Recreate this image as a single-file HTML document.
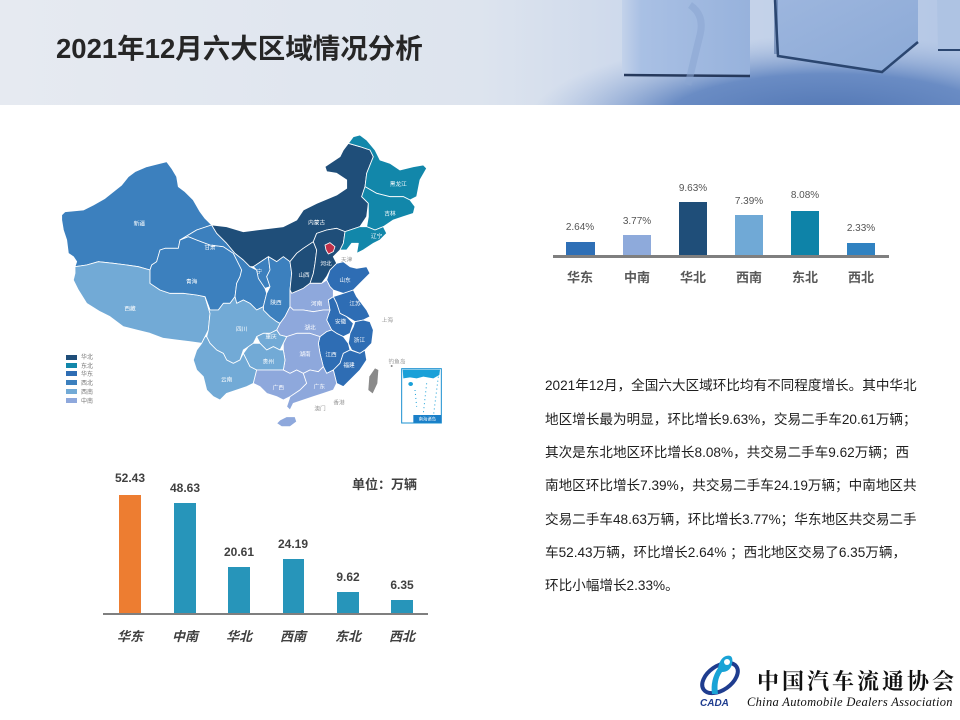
<!DOCTYPE html>
<html><head><meta charset="utf-8">
<style>
*{margin:0;padding:0;box-sizing:border-box}
body{width:960px;height:720px;background:#fff;position:relative;overflow:hidden;font-family:"Liberation Sans","Noto Sans CJK SC",sans-serif}
.abs{position:absolute}
.title{left:56px;top:35px;font-size:27.5px;font-weight:bold;color:#262626;line-height:28px;white-space:nowrap}
.para div{position:absolute;left:545px;font-size:13.6px;color:#1e1e1e;white-space:nowrap;line-height:20px}
.pct{position:absolute;width:60px;text-align:center;font-size:10px;color:#555;line-height:12px}
.cat{position:absolute;width:60px;text-align:center;font-size:13px;font-weight:bold;color:#595959;line-height:16px}
.val{position:absolute;width:60px;text-align:center;font-size:12px;font-weight:bold;color:#404040;line-height:14px}
.cat2{position:absolute;width:60px;text-align:center;font-size:13px;font-weight:bold;font-style:italic;color:#404040;line-height:16px}
</style></head><body>

<!-- header -->
<svg class="abs" style="left:0;top:0" width="960" height="105" viewBox="0 0 960 105">
<defs>
<linearGradient id="hg" x1="0" x2="1" y1="0" y2="0">
<stop offset="0" stop-color="#e6eaf1"/>
<stop offset="0.5" stop-color="#dde4ee"/>
<stop offset="0.64" stop-color="#cfdaec"/>
<stop offset="1" stop-color="#b4c7e5"/>
</linearGradient>
<radialGradient id="fl" cx="830" cy="120" r="300" gradientUnits="userSpaceOnUse" gradientTransform="translate(830 120) scale(1 0.28) translate(-830 -120)">
<stop offset="0" stop-color="#4f74b2"/>
<stop offset="0.55" stop-color="#6a8cc4"/>
<stop offset="1" stop-color="#9fb6dc" stop-opacity="0"/>
</radialGradient>
<linearGradient id="c1" x1="0" y1="0" x2="1" y2="0">
<stop offset="0" stop-color="#c3d2ea"/>
<stop offset="0.15" stop-color="#a9c0e4"/>
<stop offset="1" stop-color="#97b2dc"/>
</linearGradient>
<linearGradient id="c2" x1="0" y1="0" x2="1" y2="1">
<stop offset="0" stop-color="#9db6de"/>
<stop offset="1" stop-color="#8ba9d6"/>
</linearGradient>
</defs>
<rect width="960" height="105" fill="url(#hg)"/>
<rect x="500" y="30" width="460" height="75" fill="url(#fl)"/>
<!-- cube 1 -->
<rect x="622" y="-5" width="128" height="81" rx="3" fill="url(#c1)"/>
<path d="M624 75 L750 76" stroke="#26395c" stroke-width="2.5"/>
<path d="M690 5 Q705 15 700 35 Q695 55 688 85" stroke="#8aa6d2" stroke-width="7" fill="none" opacity="0.55"/>
<!-- cube 2 -->
<path d="M774 -2 L918 -2 L918 42 L882 72 L778 56 Z" fill="url(#c2)"/>
<path d="M776 -2 L776 54" stroke="#5a78a8" stroke-width="4" opacity="0.6"/>
<path d="M775 0 L778 56 L882 72 L918 42" stroke="#2b4670" stroke-width="2.5" fill="none"/>
<!-- cube 3 -->
<path d="M937 -2 L960 -2 L960 50 L938 50 Z" fill="#aec3e3"/>
<path d="M938 50 L960 50" stroke="#2b4670" stroke-width="2"/>
</svg>
<div class="abs title">2021年12月六大区域情况分析</div>

<!-- map -->
<svg class="abs" style="left:50px;top:130px" width="400" height="300" viewBox="0 0 1200 900">
<g stroke="#fff" stroke-width="2.5" stroke-linejoin="round">
<polygon fill="#3c80be" points="35,255 45,245 100,240 130,225 165,205 190,185 215,165 235,140 255,125 290,110 330,100 350,95 365,115 380,140 385,170 405,185 430,210 450,245 465,265 485,285 470,290 440,300 415,315 390,330 385,355 345,355 330,360 320,395 305,405 300,420 265,410 230,405 190,400 145,395 110,405 75,410 80,395 70,380 55,370 50,330 40,300 35,270"/>
<polygon fill="#72aad6" points="75,410 110,405 145,395 190,400 230,405 265,410 300,420 300,460 330,480 360,490 400,490 440,495 465,500 480,550 475,600 465,620 455,640 420,635 380,630 340,625 300,610 260,600 220,590 180,560 150,545 110,520 85,480 70,450 75,430"/>
<polygon fill="#3c80be" points="300,420 305,405 320,395 330,360 345,355 385,355 390,330 415,320 440,330 480,345 520,350 550,370 560,390 575,420 570,440 560,460 555,500 540,520 520,520 505,540 480,540 465,500 440,495 400,490 360,490 330,480 300,460"/>
<polygon fill="#3c80be" points="390,330 415,315 440,300 470,290 485,285 500,310 530,340 555,370 580,390 600,410 620,420 625,440 640,460 650,490 640,530 620,540 600,520 580,510 560,520 555,500 560,460 570,440 575,420 560,390 550,370 520,350 480,345 440,330 415,320"/>
<polygon fill="#1f4e79" points="485,285 530,290 580,305 620,300 660,295 700,290 740,270 760,240 800,220 860,195 890,175 890,150 860,130 830,125 825,110 870,80 880,60 895,40 930,50 960,60 970,80 950,130 945,170 935,200 955,220 950,260 930,290 900,300 885,305 860,295 830,300 800,310 790,335 760,355 740,370 720,395 700,380 680,395 655,380 640,390 610,410 600,410 580,390 555,370 530,340 500,310"/>
<polygon fill="#3c80be" points="610,410 640,390 655,380 660,420 650,440 660,470 645,475 625,445 620,420"/>
<polygon fill="#3c80be" points="650,440 660,420 655,380 680,395 700,380 720,395 725,430 720,480 720,530 705,560 690,580 680,575 660,560 640,540 640,530 650,490 660,470"/>
<polygon fill="#1f4e79" points="720,395 740,370 760,355 790,335 800,360 795,400 790,430 780,460 760,475 725,490 720,480 725,430"/>
<polygon fill="#1f4e79" points="790,335 800,310 830,300 860,295 885,305 880,340 870,360 850,380 860,400 840,420 830,440 815,460 780,460 790,430 795,400 800,360"/>
<polygon fill="#1287aa" points="895,40 910,20 930,15 950,30 975,60 990,90 1020,100 1050,120 1090,110 1120,105 1130,115 1110,150 1100,200 1080,210 1060,200 1020,200 980,190 945,170 950,130 970,80 960,60 930,50"/>
<polygon fill="#1287aa" points="945,170 980,190 1020,200 1060,200 1080,210 1095,230 1090,250 1060,260 1030,270 1000,290 975,300 950,290 955,260 955,220 935,200"/>
<polygon fill="#1287aa" points="885,305 900,300 930,290 950,290 975,300 1000,290 1010,310 990,330 970,340 940,360 920,370 925,340 905,340 890,360 870,360 880,340"/>
<polygon fill="#2e6db4" points="840,420 860,400 880,395 900,410 920,415 950,410 960,430 930,460 910,480 880,490 850,480 840,470 830,450"/>
<polygon fill="#8ea8dc" points="725,490 760,475 780,460 815,460 830,450 840,470 850,480 850,500 835,510 840,540 820,540 790,545 760,540 730,540 720,530 720,480"/>
<polygon fill="#2e6db4" points="880,490 910,480 920,500 935,520 950,540 960,560 940,570 915,575 890,560 870,550 860,520 850,500"/>
<polygon fill="#2e6db4" points="850,500 860,520 870,550 890,560 910,580 900,610 880,620 860,610 845,600 830,570 840,540 835,510"/>
<polygon fill="#2e6db4" points="915,575 940,570 960,575 970,600 965,640 945,660 930,670 905,660 895,640 900,610 910,590"/>
<polygon fill="#8ea8dc" points="705,560 720,530 730,540 760,540 790,545 820,540 840,540 830,570 845,600 830,605 810,620 780,610 740,610 710,620 690,615 680,600 690,580"/>
<polygon fill="#2e6db4" points="810,620 830,605 845,600 860,610 880,620 895,640 900,660 880,670 870,700 850,720 830,730 820,710 810,670 805,640"/>
<polygon fill="#2e6db4" points="900,660 930,670 945,660 950,690 930,720 900,750 880,770 860,760 850,720 870,700 880,670"/>
<polygon fill="#8ea8dc" points="710,620 740,610 780,610 810,620 805,640 810,670 820,710 805,725 780,720 760,730 740,720 720,730 700,720 705,690 700,660 700,640"/>
<polygon fill="#72aad6" points="465,500 480,540 505,540 520,520 540,520 555,500 560,520 580,510 600,520 620,540 640,530 640,540 660,560 680,575 690,580 680,600 660,610 640,610 620,620 610,640 595,650 580,660 570,690 550,700 530,690 520,670 500,660 480,640 470,620 475,600 480,550"/>
<polygon fill="#72aad6" points="640,610 660,610 680,600 690,615 710,620 700,640 690,660 670,650 650,660 630,640 620,620"/>
<polygon fill="#72aad6" points="595,650 610,640 630,640 650,660 670,650 690,660 700,660 705,690 700,720 660,720 620,720 600,710 590,690 580,670"/>
<polygon fill="#72aad6" points="455,640 465,620 470,620 480,640 500,660 520,670 530,690 550,700 570,690 580,670 590,690 600,710 620,720 610,760 590,770 560,780 530,790 510,810 490,800 470,780 460,740 440,720 430,690 440,660"/>
<polygon fill="#8ea8dc" points="620,720 660,720 700,720 720,730 740,720 760,730 770,760 750,780 720,800 700,810 680,800 650,790 630,770 610,760"/>
<polygon fill="#8ea8dc" points="760,730 780,720 805,725 820,710 830,730 850,720 860,760 850,780 820,790 790,800 760,810 730,820 720,840 710,830 720,800 750,780 770,760"/>
<polygon fill="#8ea8dc" points="690,870 710,860 735,860 740,875 720,890 695,890 680,880"/>
<polygon fill="#c0304a" points="825,345 840,338 855,350 850,365 835,372 828,360"/>
</g>
<polygon fill="#8a8a8a" points="975,715 985,720 982,760 968,790 955,780 958,740"/>
<circle cx="1025" cy="708" r="3" fill="#888"/>
<rect x="1055" y="716" width="119" height="163" fill="#fff" stroke="#1a90d0" stroke-width="3"/>
<path d="M1058 719 L1170 719 L1168 735 L1150 745 L1120 740 L1100 745 L1080 742 L1060 745 Z" fill="#1aa0d8"/>
<ellipse cx="1082" cy="762" rx="7" ry="6" fill="#1aa0d8"/>
<path d="M1165 740 L1150 860 M1130 760 L1120 850 M1095 780 L1100 830" stroke="#1aa0d8" stroke-width="3" stroke-dasharray="3,9" fill="none"/>
<rect x="1090" y="855" width="84" height="23" fill="#1a7fc8"/>
<text x="1132" y="872" font-size="13" fill="#fff" text-anchor="middle" font-family="Noto Sans CJK SC, sans-serif">南海诸岛</text>
<g font-family="Noto Sans CJK SC, sans-serif" font-size="17" fill="#fff" text-anchor="middle">
<text x="268" y="286">新疆</text>
<text x="240" y="541">西藏</text>
<text x="425" y="461">青海</text>
<text x="480" y="358">甘肃</text>
<text x="800" y="284">内蒙古</text>
<text x="1045" y="168">黑龙江</text>
<text x="1020" y="256">吉林</text>
<text x="980" y="324">辽宁</text>
<text x="828" y="406">河北</text>
<text x="762" y="441">山西</text>
<text x="628" y="431">宁</text>
<text x="678" y="524">陕西</text>
<text x="885" y="456">山东</text>
<text x="915" y="526">江苏</text>
<text x="800" y="526">河南</text>
<text x="872" y="581">安徽</text>
<text x="780" y="598">湖北</text>
<text x="575" y="603">四川</text>
<text x="663" y="626">重庆</text>
<text x="928" y="636">浙江</text>
<text x="765" y="678">湖南</text>
<text x="843" y="679">江西</text>
<text x="655" y="701">贵州</text>
<text x="897" y="711">福建</text>
<text x="530" y="754">云南</text>
<text x="685" y="779">广西</text>
<text x="808" y="776">广东</text>
</g>
<g font-family="Noto Sans CJK SC, sans-serif" font-size="17" fill="#999" text-anchor="middle">
<text x="890" y="394">天津</text>
<text x="1012" y="576">上海</text>
<text x="1041" y="701">钓鱼岛</text>
<text x="867" y="824">香港</text>
<text x="810" y="841">澳门</text>
</g>
</svg>
<!-- legend -->
<div class="abs" style="left:66px;top:354.5px;width:11px;height:5px;background:#1f4e79"></div>
<div class="abs" style="left:66px;top:362.5px;width:11px;height:5px;background:#1287aa"></div>
<div class="abs" style="left:66px;top:371px;width:11px;height:5px;background:#2e6db4"></div>
<div class="abs" style="left:66px;top:380px;width:11px;height:5px;background:#3c80be"></div>
<div class="abs" style="left:66px;top:389px;width:11px;height:5px;background:#72aad6"></div>
<div class="abs" style="left:66px;top:398px;width:11px;height:5px;background:#8ea8dc"></div>
<div class="abs" style="left:81px;top:353px;font-size:6px;line-height:8.7px;color:#777;font-family:'Noto Sans CJK SC',sans-serif">华北<br>东北<br>华东<br>西北<br>西南<br>中南</div>

<!-- top-right chart -->
<div class="abs" style="left:566px;top:242px;width:29px;height:14px;background:#2e6fb6"></div>
<div class="abs" style="left:623px;top:235px;width:28px;height:21px;background:#8eaadb"></div>
<div class="abs" style="left:679px;top:202px;width:28px;height:54px;background:#1f4e79"></div>
<div class="abs" style="left:735px;top:215px;width:28px;height:41px;background:#70a9d6"></div>
<div class="abs" style="left:791px;top:211px;width:28px;height:45px;background:#0e83a8"></div>
<div class="abs" style="left:847px;top:243px;width:28px;height:13px;background:#3082c1"></div>
<div class="abs" style="left:553px;top:255px;width:336px;height:3px;background:#7f7f7f"></div>
<div class="pct" style="left:550px;top:222px">2.64%</div>
<div class="pct" style="left:607px;top:216px">3.77%</div>
<div class="pct" style="left:663px;top:183px">9.63%</div>
<div class="pct" style="left:719px;top:196px">7.39%</div>
<div class="pct" style="left:775px;top:190px">8.08%</div>
<div class="pct" style="left:831px;top:223px">2.33%</div>
<div class="cat" style="left:550px;top:270px">华东</div>
<div class="cat" style="left:607px;top:270px">中南</div>
<div class="cat" style="left:663px;top:270px">华北</div>
<div class="cat" style="left:719px;top:270px">西南</div>
<div class="cat" style="left:775px;top:270px">东北</div>
<div class="cat" style="left:831px;top:270px">西北</div>

<!-- paragraph -->
<div class="para">
<div style="top:376px">2021年12月，全国六大区域环比均有不同程度增长。其中华北</div>
<div style="top:409.5px">地区增长最为明显，环比增长9.63%，交易二手车20.61万辆；</div>
<div style="top:443px">其次是东北地区环比增长8.08%，共交易二手车9.62万辆；西</div>
<div style="top:476px">南地区环比增长7.39%，共交易二手车24.19万辆；中南地区共</div>
<div style="top:510px">交易二手车48.63万辆，环比增长3.77%；华东地区共交易二手</div>
<div style="top:543px">车52.43万辆，环比增长2.64% ；西北地区交易了6.35万辆，</div>
<div style="top:576px">环比小幅增长2.33%。</div>
</div>

<!-- bottom chart -->
<div class="abs" style="left:119px;top:495px;width:21.5px;height:119px;background:#ed7d31"></div>
<div class="abs" style="left:174px;top:503px;width:21.5px;height:111px;background:#2795ba"></div>
<div class="abs" style="left:228px;top:567px;width:21.5px;height:47px;background:#2795ba"></div>
<div class="abs" style="left:282.5px;top:559px;width:21.5px;height:55px;background:#2795ba"></div>
<div class="abs" style="left:337px;top:592px;width:21.5px;height:22px;background:#2795ba"></div>
<div class="abs" style="left:391px;top:600px;width:21.5px;height:14px;background:#2795ba"></div>
<div class="abs" style="left:103px;top:613px;width:325px;height:2px;background:#7f7f7f"></div>
<div class="val" style="left:100px;top:471px">52.43</div>
<div class="val" style="left:155px;top:481px">48.63</div>
<div class="val" style="left:209px;top:545px">20.61</div>
<div class="val" style="left:263px;top:537px">24.19</div>
<div class="val" style="left:318px;top:570px">9.62</div>
<div class="val" style="left:372px;top:578px">6.35</div>
<div class="cat2" style="left:100px;top:629px">华东</div>
<div class="cat2" style="left:155px;top:629px">中南</div>
<div class="cat2" style="left:209px;top:629px">华北</div>
<div class="cat2" style="left:263px;top:629px">西南</div>
<div class="cat2" style="left:318px;top:629px">东北</div>
<div class="cat2" style="left:372px;top:629px">西北</div>
<div class="abs" style="left:352px;top:477px;font-size:13px;font-weight:bold;color:#404040;line-height:16px;white-space:nowrap">单位：万辆</div>

<!-- logo -->
<svg class="abs" style="left:696px;top:650px" width="52" height="60" viewBox="0 0 52 60">
<ellipse cx="24" cy="28" rx="20" ry="12" transform="rotate(-35 24 28)" fill="none" stroke="#1f3d8f" stroke-width="4"/>
<path d="M30 6 Q38 4 36 14 Q34 22 26 22 Q20 30 22 44 L16 44 Q14 30 22 18 Q24 8 30 6 Z" fill="#19a3d6"/>
<circle cx="31" cy="12" r="3" fill="#fff"/>
<text x="4" y="56" font-size="10" font-weight="bold" font-style="italic" fill="#1f3d8f" font-family="Liberation Sans, sans-serif">CADA</text>
</svg>
<div class="abs" style="left:757px;top:668px;font-size:22px;font-weight:bold;letter-spacing:3px;color:#111;line-height:26px;white-space:nowrap;font-family:'Noto Serif CJK SC','Noto Sans CJK SC',serif">中国汽车流通协会</div>
<div class="abs" style="left:747px;top:695px;font-size:12.5px;font-style:italic;color:#111;line-height:14px;white-space:nowrap;font-family:'Liberation Serif',serif;letter-spacing:0.3px">China Automobile Dealers Association</div>

</body></html>
